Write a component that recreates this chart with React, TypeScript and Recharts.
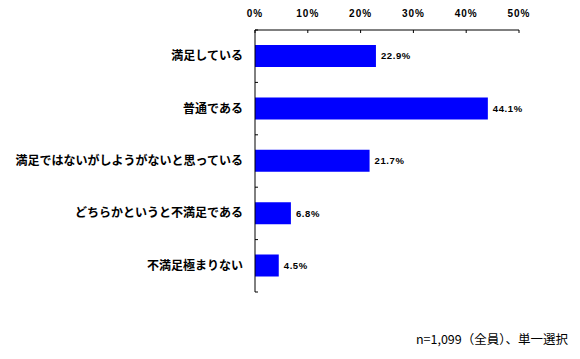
import { BarChart, Bar, XAxis, YAxis, LabelList } from "recharts";

const categories = [
  "満足している",
  "普通である",
  "満足ではないがしようがないと思っている",
  "どちらかというと不満足である",
  "不満足極まりない",
];
const values = [22.9, 44.1, 21.7, 6.8, 4.5];
const xTicks = [0, 10, 20, 30, 40, 50];
const note = "n=1,099（全員）、単一選択";

const data = categories.map((name, i) => ({ name, value: values[i] }));

const CJK = '"Noto Sans CJK JP", "Noto Sans", sans-serif';

const CategoryTick = (props: any) => {
  const { x, y, payload, index, visibleTicksCount } = props;
  const axisX = x + 12;
  const half = payload.offset > 0 ? payload.offset : 26.2;
  return (
    <g>
      <text
        x={x}
        y={y}
        dy={4}
        textAnchor="end"
        fontFamily={CJK}
        fontWeight="bold"
        fontSize={12}
        fill="#000"
      >
        {payload.value}
      </text>
      <line x1={axisX} x2={axisX + 3} y1={y - half} y2={y - half} stroke="#000" />
      {index === visibleTicksCount - 1 && (
        <line x1={axisX} x2={axisX + 3} y1={y + half} y2={y + half} stroke="#000" />
      )}
    </g>
  );
};

export default function App() {
  return (
    <div style={{ position: "absolute", left: 0, top: 0, width: 580, height: 359, background: "#fff" }}>
      <BarChart
        width={580}
        height={359}
        data={data}
        layout="vertical"
        margin={{ top: 0, right: 61, bottom: 67, left: 0 }}
      >
        <XAxis
          type="number"
          orientation="top"
          domain={[0, 50]}
          ticks={xTicks}
          height={30}
          tickSize={-3}
          tickMargin={16}
          tickFormatter={(v: number) => `${v}%`}
          stroke="#000"
          tick={{ fontFamily: "Liberation Sans, Arial, sans-serif", fontWeight: "bold", fontSize: 10, fill: "#000", letterSpacing: 1 }}
          interval={0}
        />
        <YAxis
          type="category"
          dataKey="name"
          width={255}
          tickSize={0}
          tickMargin={12}
          tickLine={false}
          stroke="#000"
          tick={<CategoryTick />}
          interval={0}
        />
        <Bar dataKey="value" fill="#0000FF" barSize={22} isAnimationActive={false}>
          <LabelList
            dataKey="value"
            position="right"
            offset={5}
            formatter={(v: any) => `${v}%`}
            style={{ fontFamily: "Liberation Sans, Arial, sans-serif", fontWeight: "bold", fontSize: 9.5, fill: "#000", letterSpacing: 0.6 }}
          />
        </Bar>
      </BarChart>
      <div
        style={{
          position: "absolute",
          right: 12,
          top: 329,
          fontFamily: CJK,
          fontSize: 12.5,
          color: "#000",
          whiteSpace: "nowrap",
        }}
      >
        {note}
      </div>
    </div>
  );
}
